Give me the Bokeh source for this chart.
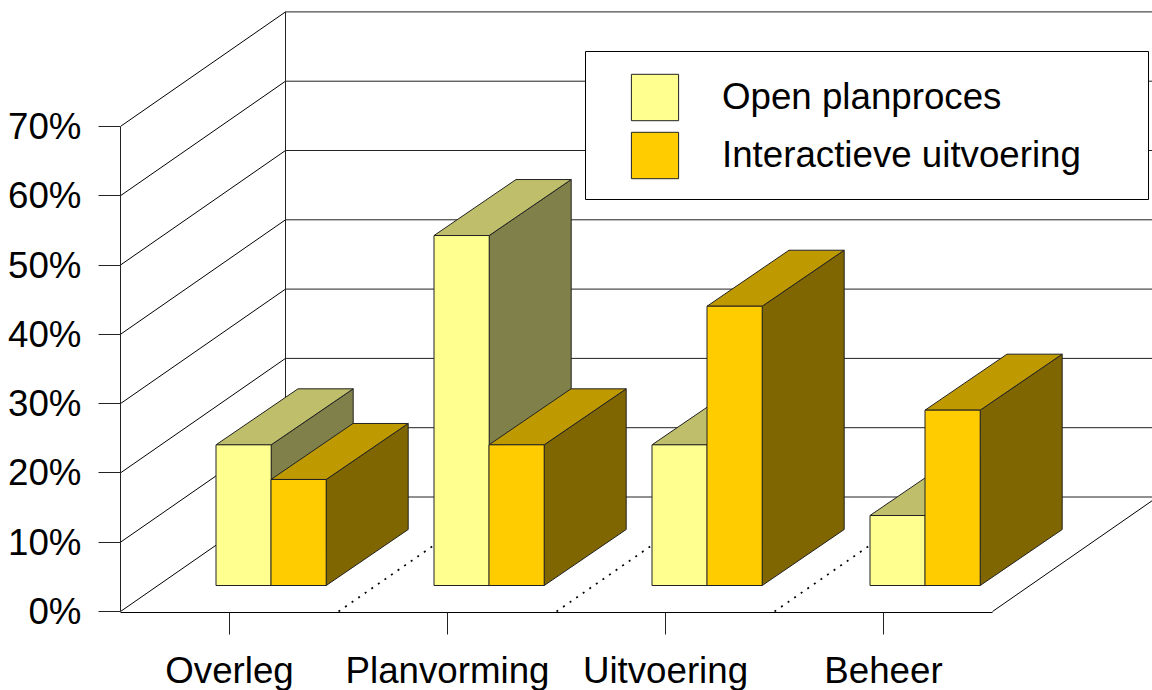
from bokeh.plotting import figure
from bokeh.models import (ColumnDataSource, FixedTicker, Legend, LegendItem, BoxAnnotation, Range1d, LinearAxis)
from bokeh.embed import file_html
from bokeh.resources import INLINE

categories = ["Overleg", "Planvorming", "Uitvoering", "Beheer"]
open_planproces = [20.3, 50.5, 20.3, 10.1]
interactieve_uitvoering = [15.3, 20.3, 40.3, 25.3]
value_ticks = [0, 10, 20, 30, 40, 50, 60, 70]
series_names = ["Open planproces", "Interactieve uitvoering"]

PX_X = 218.0      # pixels per category
PX_Y = 6.93       # pixels per percent
WALL_DX = 165 / PX_X
WALL_DY = 114.5 / PX_Y
BASE_Y = 26 / PX_Y
BAR_DX = 82 / PX_X
BAR_DY = 56 / PX_Y
BAR_W = 55.2 / PX_X
FONT = "Liberation Sans"
FONT_SIZE = "36.7px"
LINE = "#222222"


def X(px):
    return (px - 120) / PX_X


def Y(py):
    return (611 - py) / PX_Y


p = figure(width=1152, height=694, output_backend="svg", toolbar_location=None,
           x_range=Range1d(X(120), X(1152)), y_range=Range1d(Y(612), Y(0)),
           min_border_left=120, min_border_right=0, min_border_top=0, min_border_bottom=82,
           outline_line_color=None, margin=(0, 0, -4, 0))
p.grid.visible = False
p.xaxis.visible = False
p.yaxis.visible = False

ya = LinearAxis(ticker=FixedTicker(ticks=value_ticks),
                major_label_overrides={t: f"{t}%" for t in value_ticks},
                bounds=(0, 70), major_tick_in=0, major_tick_out=22, minor_tick_line_color=None,
                major_label_standoff=17, major_label_text_font=FONT,
                major_label_text_font_size=FONT_SIZE, major_label_text_color="black",
                axis_line_color=LINE, major_tick_line_color=LINE)
p.add_layout(ya, "left")
cat_ticks = [i + 0.5 for i in range(len(categories))]
xa = LinearAxis(ticker=FixedTicker(ticks=cat_ticks),
                major_label_overrides={t: c for t, c in zip(cat_ticks, categories)},
                bounds=(0, len(categories)), major_tick_in=0, major_tick_out=22,
                minor_tick_line_color=None, major_label_standoff=15, major_label_text_font=FONT,
                major_label_text_font_size=FONT_SIZE, major_label_text_color="black",
                major_label_text_line_height=1.0,
                axis_line_color="black", major_tick_line_color=LINE)
p.add_layout(xa, "below")

# walls and floor
xmax = len(categories)
gx = [[WALL_DX, xmax + WALL_DX] for _ in value_ticks]
gy = [[t + WALL_DY, t + WALL_DY] for t in value_ticks]
p.multi_line(gx, gy, line_color=LINE, line_width=1)
p.multi_line([[0, WALL_DX] for _ in value_ticks], [[t, t + WALL_DY] for t in value_ticks],
             line_color="black", line_width=1)
p.line([WALL_DX, WALL_DX], [WALL_DY, 70 + WALL_DY], line_color=LINE, line_width=1)
p.line([xmax, xmax + WALL_DX], [0, WALL_DY], line_color="black", line_width=1)
# floor separators
p.multi_line([[i, i + WALL_DX] for i in range(1, xmax)],
             [[0, WALL_DY] for i in range(1, xmax)],
             line_color="black", line_width=1.7, line_dash="2 6")


def bars(values, shift, front, top, side):
    x0 = [i + X(215.5) + shift for i in range(len(values))]
    x1 = [a + BAR_W for a in x0]
    y0 = [BASE_Y for _ in values]
    y1 = [v + BASE_Y for v in values]
    sx = [[b, b + BAR_DX, b + BAR_DX, b] for b in x1]
    sy = [[a, a + BAR_DY, t + BAR_DY, t] for a, t in zip(y0, y1)]
    tx = [[a, b, b + BAR_DX, a + BAR_DX] for a, b in zip(x0, x1)]
    ty = [[t, t, t + BAR_DY, t + BAR_DY] for t in y1]
    p.patches(sx, sy, fill_color=side, line_color=LINE, line_width=1)
    p.patches(tx, ty, fill_color=top, line_color=LINE, line_width=1)
    src = ColumnDataSource(dict(left=x0, right=x1, bottom=y0, top=y1))
    return p.quad(left="left", right="right", bottom="bottom", top="top", source=src,
                  fill_color=front, line_color=LINE, line_width=1)


r1 = bars(open_planproces, 0, "#FFFF8F", "#BFBF6B", "#80804A")
r2 = bars(interactieve_uitvoering, BAR_W - 0.2 / PX_X, "#FFCC00", "#BF9900", "#806600")

box = BoxAnnotation(left=X(585), right=X(1148), top=Y(51), bottom=Y(199),
                    fill_color="white", fill_alpha=1, line_color="black", line_alpha=1, line_width=1)
p.add_layout(box)
legend = Legend(items=[LegendItem(label=series_names[0], renderers=[r1]),
                       LegendItem(label=series_names[1], renderers=[r2])],
                location=(505, 428), padding=0, margin=0, spacing=0,
                glyph_width=59, glyph_height=58, label_standoff=38,
                label_text_font=FONT, label_text_font_size=FONT_SIZE, label_text_color="black",
                background_fill_alpha=0, border_line_color=None)
p.add_layout(legend)

open("out.html", "w").write(file_html(p, INLINE))
